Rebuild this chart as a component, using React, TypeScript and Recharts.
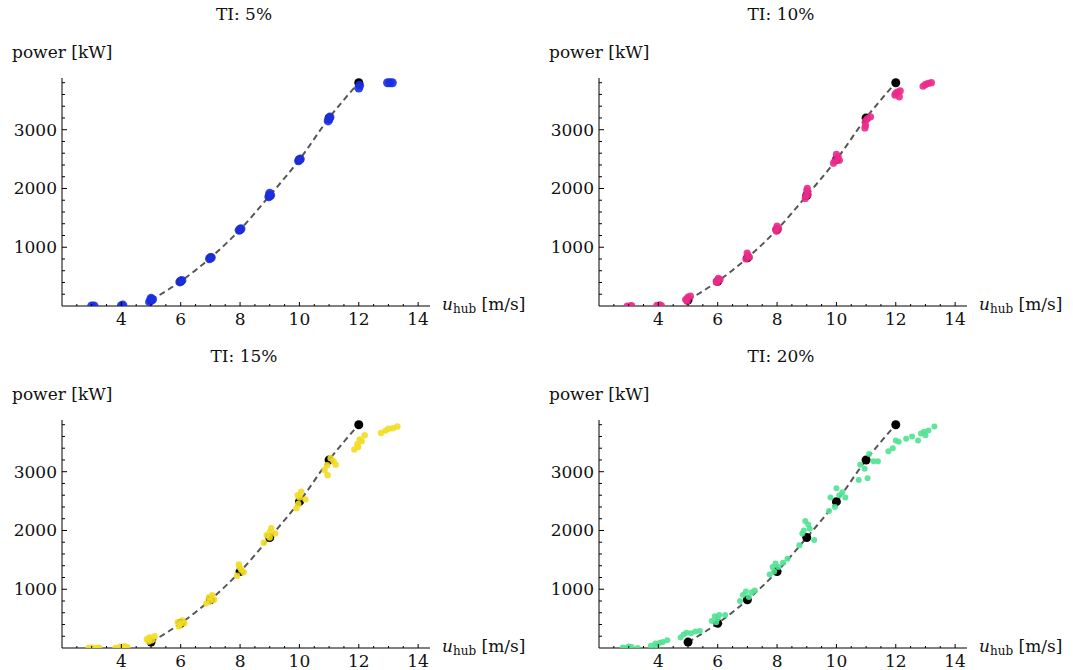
import React from 'react';
import { ComposedChart, Scatter, Line, XAxis, YAxis } from 'recharts';

// reference power curve (black dots + dashed line)
const refSpeed = [5, 6, 7, 8, 9, 10, 11, 12];
const refPower = [100, 420, 820, 1300, 1880, 2490, 3200, 3800];

// measured points per turbulence intensity, [u_hub, power]
const ti5Points: [number, number][] = [
  [3.0, 0], [3.08, 0], [4.0, 5], [4.05, 15],
  [4.95, 70], [5.05, 110], [5.0, 130],
  [5.97, 410], [6.04, 435], [6.97, 805], [7.03, 825],
  [7.97, 1290], [8.03, 1315], [8.97, 1860], [9.03, 1885], [9.0, 1920],
  [9.97, 2470], [10.03, 2500], [10.97, 3150], [11.03, 3215], [11.0, 3185],
  [12.0, 3710], [12.03, 3755],
  [12.97, 3800], [13.05, 3800], [13.13, 3800],
];

const ti10Points: [number, number][] = [
  [2.95, 0], [3.05, 0], [3.1, 5],
  [3.95, 10], [4.05, 20], [4.1, 5],
  [4.92, 110], [5.0, 150], [5.08, 170], [4.97, 80],
  [5.95, 420], [6.02, 470], [6.08, 450], [5.98, 400],
  [6.95, 800], [7.02, 860], [7.07, 830], [6.99, 900],
  [7.95, 1300], [8.0, 1360], [8.05, 1320], [7.98, 1270],
  [8.95, 1830], [9.0, 1960], [9.05, 1900], [8.98, 1880], [9.02, 2000],
  [9.9, 2430], [10.0, 2580], [10.06, 2540], [10.1, 2480], [9.95, 2470],
  [10.96, 3030], [10.98, 3070], [11.05, 3190], [11.15, 3220], [10.98, 3150],
  [11.97, 3590], [12.05, 3640], [12.12, 3560], [12.15, 3660], [12.0, 3620],
  [12.92, 3740], [13.0, 3770], [13.1, 3790], [13.2, 3800],
];

const ti15Points: [number, number][] = [
  [2.9, 0], [3.0, 10], [3.15, 0], [3.25, 5],
  [3.8, 0], [3.95, 20], [4.1, 30], [4.2, 15],
  [4.86, 150], [4.95, 180], [5.03, 130], [5.12, 200], [4.92, 110],
  [5.9, 440], [5.97, 400], [6.06, 470], [6.12, 420], [5.94, 370],
  [6.86, 760], [6.95, 860], [6.98, 800], [7.06, 900], [7.12, 820],
  [7.9, 1230], [7.98, 1380], [8.04, 1330], [8.12, 1290], [7.96, 1420],
  [8.8, 1790], [8.9, 1920], [9.0, 1880], [9.05, 2040], [9.18, 1950], [9.0, 1970],
  [9.9, 2380], [9.96, 2450], [10.0, 2560], [10.06, 2660], [10.2, 2530], [9.94, 2600],
  [10.85, 3030], [10.93, 3110], [10.95, 2940], [11.15, 3180], [11.22, 3120], [11.05, 3230],
  [11.85, 3380], [11.95, 3470], [12.03, 3550], [12.1, 3520], [12.2, 3620], [11.98, 3420],
  [12.75, 3660], [12.9, 3700], [13.0, 3730], [13.15, 3740], [13.3, 3770],
];

const ti20Points: [number, number][] = [
  [2.8, 10], [2.95, 5], [3.1, 15], [3.3, 0], [3.0, 25],
  [3.75, 40], [3.9, 75], [4.05, 90], [4.15, 100], [4.3, 130], [3.95, 30],
  [4.75, 180], [4.85, 230], [4.95, 260], [5.1, 250], [5.25, 280], [5.4, 290],
  [5.8, 460], [5.9, 540], [6.0, 500], [6.05, 560], [6.25, 560], [5.95, 440],
  [6.75, 800], [6.85, 900], [6.95, 960], [7.05, 870], [7.15, 950], [7.25, 980],
  [7.75, 1250], [7.85, 1380], [7.95, 1440], [8.05, 1380], [8.2, 1450], [8.35, 1520], [7.9, 1300],
  [8.75, 1750], [8.85, 1950], [8.95, 2160], [9.05, 2100], [9.1, 2030], [9.25, 1840], [8.9, 2000],
  [9.75, 2330], [9.8, 2560], [9.95, 2400], [10.0, 2720], [10.1, 2600], [10.2, 2650], [10.3, 2560],
  [10.75, 2860], [10.8, 3120], [10.95, 3050], [11.05, 2890], [11.1, 3300], [11.25, 3180], [11.4, 3180],
  [11.75, 3350], [11.9, 3400], [12.0, 3530], [12.1, 3510], [12.35, 3560], [12.55, 3600], [12.75, 3530],
  [12.85, 3650], [12.95, 3680], [13.1, 3700], [13.3, 3770], [13.0, 3620],
];

const titles = ['TI: 5%', 'TI: 10%', 'TI: 15%', 'TI: 20%'];
const colors = ['#1c2fe0', '#ec2a8a', '#f2dc22', '#4fe292'];

const xTicks = [2.5, 3, 3.5, 4, 4.5, 5, 5.5, 6, 6.5, 7, 7.5, 8, 8.5, 9, 9.5, 10, 10.5, 11, 11.5, 12, 12.5, 13, 13.5, 14];
const xLabels = [4, 6, 8, 10, 12, 14];
const yTicks = [200, 400, 600, 800, 1000, 1200, 1400, 1600, 1800, 2000, 2200, 2400, 2600, 2800, 3000, 3200, 3400, 3600, 3800];
const yLabels = [1000, 2000, 3000];

// Liberation Serif isn't picked up in the sandbox, DejaVu Serif is
const FONT = "'DejaVu Serif', 'Liberation Serif', serif";

const refCurve = refSpeed.map((x, i) => ({ x, y: refPower[i] }));
const toRows = (pts: [number, number][]) => pts.map(([x, y]) => ({ x, y }));

function XTick({ x, y, payload }: any) {
  const v = payload.value;
  const major = xLabels.includes(v);
  return (
    <g>
      <line x1={x} x2={x} y1={y} y2={y - (major ? 4 : 2)} stroke="#000" />
      {major && (
        <text x={x} y={y + 19} textAnchor="middle" style={{ fontFamily: FONT, fontSize: 17 }} fill="#111">
          {v}
        </text>
      )}
    </g>
  );
}

function YTick({ x, y, payload }: any) {
  const v = payload.value;
  const major = yLabels.includes(v);
  return (
    <g>
      <line x1={x} x2={x + (major ? 5 : 3)} y1={y} y2={y} stroke="#000" />
      {major && (
        <text x={x - 5} y={y + 6} textAnchor="end" style={{ fontFamily: FONT, fontSize: 17 }} fill="#111">
          {v}
        </text>
      )}
    </g>
  );
}

function Panel({ title, color, points, r, left, top }: any) {
  const dot = (p: any) => <circle cx={p.cx} cy={p.cy} r={r} fill={color} fillOpacity={0.9} />;
  const blackDot = (p: any) => <circle cx={p.cx} cy={p.cy} r={4.5} fill="#000" />;
  const txt: React.CSSProperties = { position: 'absolute', fontFamily: FONT, fontSize: 17, lineHeight: '22px', color: '#111', whiteSpace: 'nowrap' };
  return (
    <div style={{ position: 'absolute', left, top, width: 537, height: 342 }}>
      <ComposedChart width={537} height={342} margin={{ top: 78, right: 107, bottom: 6, left: 0 }}>
        <XAxis
          type="number"
          dataKey="x"
          domain={[2, 14.4]}
          ticks={xTicks}
          interval={0}
          tick={<XTick />}
          tickLine={false}
          tickSize={0}
          tickMargin={0}
          height={30}
          axisLine={{ stroke: '#000' }}
          allowDataOverflow
        />
        <YAxis
          type="number"
          dataKey="y"
          domain={[0, 3880]}
          ticks={yTicks}
          interval={0}
          tick={<YTick />}
          tickLine={false}
          tickSize={0}
          tickMargin={0}
          width={62}
          axisLine={{ stroke: '#000' }}
          allowDataOverflow
        />
        <Line
          data={refCurve}
          dataKey="y"
          type="monotone"
          stroke="#555"
          strokeWidth={2}
          strokeDasharray="6 4"
          dot={false}
          isAnimationActive={false}
        />
        <Scatter data={refCurve} dataKey="y" shape={blackDot} isAnimationActive={false} />
        <Scatter data={toRows(points)} dataKey="y" shape={dot} isAnimationActive={false} />
      </ComposedChart>
      <div style={{ ...txt, left: 0, top: 3, width: 488, textAlign: 'center' }}>{title}</div>
      <div style={{ ...txt, left: 12, top: 41 }}>power [kW]</div>
      <div style={{ ...txt, left: 442, top: 293 }}>
        <i>u</i>
        <span style={{ fontSize: 12, position: 'relative', top: 3 }}>hub</span> [m/s]
      </div>
    </div>
  );
}

export default function App() {
  const sets = [ti5Points, ti10Points, ti15Points, ti20Points];
  const radii = [4.5, 3.6, 3.2, 3];
  return (
    <div style={{ position: 'absolute', left: 0, top: 0, width: 1073, height: 670, background: '#fff' }}>
      {sets.map((pts, i) => (
        <Panel
          key={titles[i]}
          title={titles[i]}
          color={colors[i]}
          points={pts}
          r={radii[i]}
          left={(i % 2) * 537}
          top={Math.floor(i / 2) * 342}
        />
      ))}
    </div>
  );
}
